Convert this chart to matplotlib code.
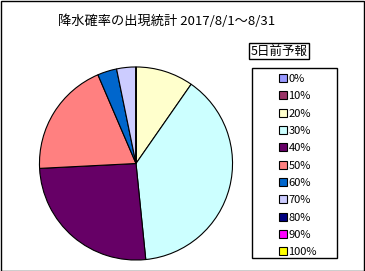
import matplotlib
matplotlib.use("Agg")
import matplotlib.pyplot as plt
from matplotlib.patches import Patch, Rectangle

plt.rcParams["font.family"] = ["Noto Sans CJK JP", "DejaVu Sans"]

# days per precipitation-probability class (Aug 1-31)
labels = ["0%", "10%", "20%", "30%", "40%", "50%", "60%", "70%", "80%", "90%", "100%"]
days = [0, 0, 3, 12, 8, 6, 1, 1, 0, 0, 0]
colors = ["#9999FF", "#993366", "#FFFFCC", "#CCFFFF", "#660066", "#FF8080",
          "#0066CC", "#CCCCFF", "#000080", "#FF00FF", "#FFFF00"]
title = "降水確率の出現統計 2017/8/1～8/31"
legend_title = "5日前予報"

W, H = 365, 271
fig = plt.figure(figsize=(W / 100, H / 100), dpi=100)
fig.patch.set_facecolor("white")

# outer chart border
fig.patches.append(Rectangle((0.5 / W, 0.5 / H), 1 - 1.5 / W, 1 - 1.5 / H,
                             transform=fig.transFigure, fill=False,
                             edgecolor="black", linewidth=1))

ax = fig.add_axes([38.5 / W, 10 / H, 195 / W, 195 / H])
ax.pie(days, colors=colors, startangle=90, counterclock=False, radius=1,
       wedgeprops=dict(edgecolor="black", linewidth=0.8))
ax.set_xlim(-1.01, 1.01)
ax.set_ylim(-1.01, 1.01)
ax.set_aspect("equal")
ax.axis("off")

fig.text(167 / W, 1 - 21 / H, title, ha="center", va="center", fontsize=9.5)

# small titled box above the legend
fig.text(279 / W, 1 - 51 / H, legend_title, ha="center", va="center", fontsize=9,
         bbox=dict(boxstyle="square,pad=0.15", facecolor="white",
                   edgecolor="black", linewidth=1))

# legend frame
fig.patches.append(Rectangle((252 / W, 1 - 258 / H), 85 / W, 190 / H,
                             transform=fig.transFigure, fill=False,
                             edgecolor="black", linewidth=1))

handles = [Patch(facecolor=c, edgecolor="black", linewidth=0.8) for c in colors]
fig.legend(handles, labels, loc="upper left", bbox_to_anchor=(270 / W, 1 - 65 / H),
           frameon=False, fontsize=8, handlelength=0.7, handleheight=0.7,
           handletextpad=0.15, labelspacing=0.66, borderpad=0.3)

fig.savefig("out.png", dpi=100)
